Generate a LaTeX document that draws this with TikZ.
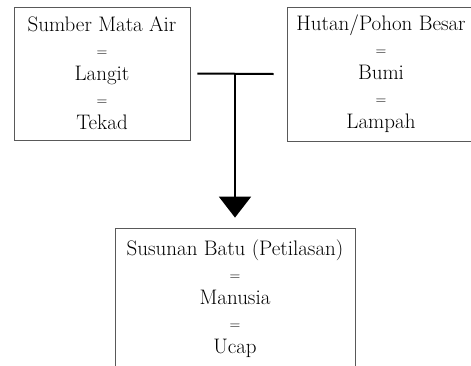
\documentclass[tikz,border=0pt]{standalone}
\usetikzlibrary{arrows.meta,positioning}

\tikzset{
	ideabox/.style={draw=black!65, line width=0.8pt, align=center, minimum width=176pt, minimum height=133pt, inner sep=0pt, font=\fontsize{21}{24.5}\selectfont},
	link/.style={line width=2pt},
}
\newcommand{\eqsign}{{\fontsize{15}{24.5}\selectfont =}}

\begin{document}
\begin{tikzpicture}[x=1pt,y=-1pt]
	\useasboundingbox (0,0) rectangle (471,365);

	\node[ideabox] (air) at (102,73.5) {Sumber Mata Air\\\eqsign\\Langit\\\eqsign\\Tekad};
	\node[ideabox, minimum width=188pt, minimum height=134pt] (hutan) at (381,74) {Hutan/Pohon Besar\\\eqsign\\Bumi\\\eqsign\\Lampah};
	\node[ideabox, minimum width=240pt, minimum height=142pt] (batu) at (235,299) {Susunan Batu (Petilasan)\\\eqsign\\Manusia\\\eqsign\\Ucap};

	\coordinate[right=7pt of air.east] (barL);
	\coordinate[left=13pt of hutan.west] (barR);
	\coordinate (mid) at (235,74);
	\draw[link] (barL) -- (barR);
	\draw[link, -{Triangle[length=21pt,width=32pt]}, shorten >=10pt] (mid) -- (batu.north);

%	\node at (235,20) {};
\end{tikzpicture}
\end{document}
